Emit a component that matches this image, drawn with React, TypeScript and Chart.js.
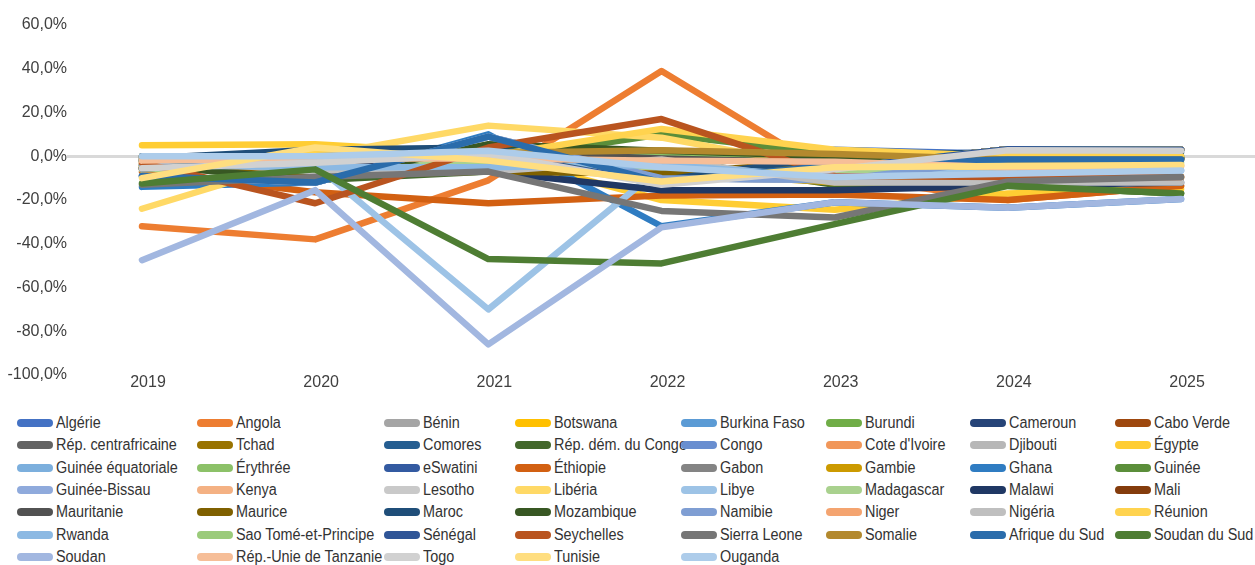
import React, { useEffect, useRef } from 'react';
import { Chart, registerables } from 'chart.js';

Chart.register(...registerables);

const years = ['2019', '2020', '2021', '2022', '2023', '2024', '2025'];
const yTicks = [60, 40, 20, 0, -20, -40, -60, -80, -100];

const countries = [
  'Algérie', 'Angola', 'Bénin', 'Botswana', 'Burkina Faso', 'Burundi', 'Cameroun', 'Cabo Verde',
  'Rép. centrafricaine', 'Tchad', 'Comores', 'Rép. dém. du Congo', 'Congo', "Cote d'Ivoire", 'Djibouti', 'Égypte',
  'Guinée équatoriale', 'Érythrée', 'eSwatini', 'Éthiopie', 'Gabon', 'Gambie', 'Ghana', 'Guinée',
  'Guinée-Bissau', 'Kenya', 'Lesotho', 'Libéria', 'Libye', 'Madagascar', 'Malawi', 'Mali',
  'Mauritanie', 'Maurice', 'Maroc', 'Mozambique', 'Namibie', 'Niger', 'Nigéria', 'Réunion',
  'Rwanda', 'Sao Tomé-et-Principe', 'Sénégal', 'Seychelles', 'Sierra Leone', 'Somalie', 'Afrique du Sud', 'Soudan du Sud',
  'Soudan', 'Rép.-Unie de Tanzanie', 'Togo', 'Tunisie', 'Ouganda',
];

const colors = [
  '#4472C4', '#ED7D31', '#A5A5A5', '#FFC000', '#5B9BD5', '#70AD47', '#264478', '#9E480E',
  '#636363', '#997300', '#255E91', '#43682B', '#698ED0', '#F1975A', '#B7B7B7', '#FFCD33',
  '#7CAFDD', '#8CC168', '#335AA1', '#D26012', '#848484', '#CC9A00', '#2F7CC2', '#5B8E3A',
  '#8FAADC', '#F4B183', '#C9C9C9', '#FFD966', '#9DC3E6', '#A9D18E', '#203864', '#843C0C',
  '#525252', '#7F6000', '#1F4E79', '#385723', '#7F9ED3', '#F4A470', '#BFBFBF', '#FFD34F',
  '#8CB9E3', '#9BCB7B', '#2F5597', '#B9541F', '#767676', '#B3892E', '#2A6CAB', '#4E7D33',
  '#A2B7E0', '#F6BE98', '#D1D1D1', '#FFDE80', '#ADCCEA',
];

// Annual change, % (2019 → 2025)
const algerie = [-1.5, -6, -6, -4, 3, 1, -0.5];
const angola = [-32, -38, -11, 39, -9, -20, -13.5];
const benin = [-5.5, -2.5, 1.5, -12.5, -5.5, 3.2, 3];
const botswana = [-5, -8, 4, -9, -4, 0, -1];
const burkinaFaso = [-5.5, -2.5, 1.5, -12.5, -5.5, 3.2, 3];
const burundi = [-2, -4, -2, -4, -10, -13.5, -17];
const cameroun = [-5.5, -2.5, 1.5, -12.5, -5.5, 3.2, 3];
const caboVerde = [-5.5, -2.5, 1.5, -12.5, -5.5, 3.2, 3];
const centrafrique = [-5.5, -2.5, 1.5, -12.5, -5.5, 3.2, 3];
const tchad = [-5.5, -2.5, 1.5, -12.5, -5.5, 3.2, 3];
const comores = [-5.5, -2.5, 1.5, -12.5, -5.5, 3.2, 3];
const rdc = [-2, -11, -7, -1, -13, -13.5, -17];
const congo = [-5.5, -2.5, 1.5, -12.5, -5.5, 3.2, 3];
const coteIvoire = [-5.5, -2.5, 1.5, -12.5, -5.5, 3.2, 3];
const djibouti = [0, 0, 0, 0, 0, 0, 0];
const egypte = [5, 5.5, 1, -20, -24.5, -17, -15];
const guineeEq = [-5.5, -2.5, 1.5, -12.5, -5.5, 3.2, 3];
const erythree = [0, 0, 0, 0, 0, 0, 0];
const eswatini = [-9, -12, 9, -10, -11, -1.5, -1.5];
const ethiopie = [-7, -16.5, -21.5, -18, -17.5, -20, -13.5];
const gabon = [-5.5, -2.5, 1.5, -12.5, -5.5, 3.2, 3];
const gambie = [-3, -1.5, -0.5, -7, -12, -11, -9.5];
const ghana = [-14, -12, 10, -32, -21, -23.5, -19.5];
const guinee = [-2, -4, -2, 10, 1, -1, -1];
const guineeBissau = [-5.5, -2.5, 1.5, -12.5, -5.5, 3.2, 3];
const kenya = [-2, -3, -2, -6, -10, -5, -4.5];
const lesotho = [-9, -12, 9, -10, -11, -1.5, -1.5];
const liberia = [-24, 0, 14, 8.5, -6, -5, -4];
const libye = [-2, -4, -70, -5, -7, -8, -6.5];
const madagascar = [-6, -5, -2, -5, -8, -2, -3];
const malawi = [0, -2, -7, -15.5, -15.5, -13.5, -12];
const mali = [-5.5, -2.5, 1.5, -12.5, -5.5, 3.2, 3];
const mauritanie = [-2, -2, 2, -1, -3, -4, -1];
const maurice = [-4, -9, -7, -8, -2, -2, -1];
const maroc = [-1, 3, 4, -11, 0, 2, 2];
const mozambique = [-4, -11, 5.5, 2.5, 0, -1, -1];
const namibie = [-9, -12, 9, -10, -11, -1.5, -1.5];
const niger = [-5.5, -2.5, 1.5, -12.5, -5.5, 3.2, 3];
const nigeria = [-1, -7, -7, -1.5, -12, -12, -12];
const reunion = [-5, 2, 0, 12.5, 3, 0, 0];
const rwanda = [-4, -5, -5, -4, -9.5, -8, -6.5];
const saoTome = [-5.5, -2.5, 1.5, -12.5, -5.5, 3.2, 3];
const senegal = [-5.5, -2.5, 1.5, -12.5, -5.5, 3.2, 3];
const seychelles = [-3, -21.5, 4, 17, -9, -9.5, -9.5];
const sierraLeone = [-13, -9.5, -7, -25, -28, -11.5, -9.5];
const somalie = [-1, 0, 1.5, 2.7, 1, -1.5, -1.5];
const afriqueSud = [-9, -12, 9, -12, -4, -1.5, -1.5];
const soudanSud = [-12.5, -6, -47, -49, -31, -13.5, -17];
const soudan = [-47.5, -15.5, -86, -32.5, -21, -23.5, -19.5];
const tanzanie = [-2, -1, -1, -2, -2.5, -5, -4.5];
const togo = [-5.5, -3, 1, -13, -6, 2.7, 2.5];
const tunisie = [-10, 4, -2, -11.5, -5, -4.5, -4];
const ouganda = [0, 0, 2.5, -5, -9.5, -8, -6.5];

const seriesValues = [
  algerie, angola, benin, botswana, burkinaFaso, burundi, cameroun, caboVerde,
  centrafrique, tchad, comores, rdc, congo, coteIvoire, djibouti, egypte,
  guineeEq, erythree, eswatini, ethiopie, gabon, gambie, ghana, guinee,
  guineeBissau, kenya, lesotho, liberia, libye, madagascar, malawi, mali,
  mauritanie, maurice, maroc, mozambique, namibie, niger, nigeria, reunion,
  rwanda, saoTome, senegal, seychelles, sierraLeone, somalie, afriqueSud, soudanSud,
  soudan, tanzanie, togo, tunisie, ouganda,
];

const legendCols = [17, 197, 384, 515, 681, 826, 970, 1115];
const legendRowTop = 423;
const legendRowStep = 22.35;

const TICK_FONT = { family: "'Liberation Sans', Arial, sans-serif", size: 16 };
const LEGEND_FONT = "'Liberation Sans', Arial, sans-serif";

export default function App() {
  const canvasRef = useRef<HTMLCanvasElement | null>(null);

  useEffect(() => {
    const canvas = canvasRef.current;
    if (!canvas) return;
    const n = countries.length;
    const chart = new Chart(canvas, {
      type: 'line',
      data: {
        datasets: countries.map((name, i) => ({
          label: name,
          data: seriesValues[i].map((v, j) => ({ x: j, y: v })),
          borderColor: colors[i],
          backgroundColor: colors[i],
          borderWidth: 6.5,
          pointRadius: 0,
          pointHoverRadius: 0,
          borderCapStyle: 'round',
          borderJoinStyle: 'round',
          tension: 0,
          fill: false,
          order: n - i,
        })),
      },
      options: {
        responsive: false,
        animation: false,
        events: [],
        layout: { padding: { top: 25, right: 0, bottom: 0, left: 0 } },
        plugins: {
          legend: { display: false },
          tooltip: { enabled: false },
        },
        scales: {
          x: {
            type: 'linear',
            min: -0.433,
            max: 6.427,
            afterBuildTicks: (scale: any) => {
              scale.ticks = years.map((_, i) => ({ value: i }));
            },
            afterFit: (scale: any) => {
              scale.height = 25;
            },
            ticks: {
              callback: (v: any) => years[v] ?? '',
              font: TICK_FONT,
              color: '#404040',
              padding: -2,
              labelOffset: 6,
              maxRotation: 0,
              autoSkip: false,
            },
            grid: { display: false, drawTicks: false },
            border: { display: false },
          },
          y: {
            min: -100,
            max: 60,
            afterBuildTicks: (scale: any) => {
              scale.ticks = yTicks.map((v) => ({ value: v }));
            },
            afterFit: (scale: any) => {
              scale.width = 67;
            },
            ticks: {
              callback: (v: any) => Number(v).toFixed(1).replace('.', ',') + '%',
              font: TICK_FONT,
              color: '#404040',
              padding: 0,
            },
            grid: {
              drawTicks: false,
              color: (ctx: any) => (ctx.tick && ctx.tick.value === 0 ? '#D9D9D9' : 'rgba(0,0,0,0)'),
              lineWidth: 3,
            },
            border: { display: false },
          },
        },
      },
    });
    return () => chart.destroy();
  }, []);

  return (
    <div style={{ position: 'absolute', left: 0, top: 0, width: 1255, height: 565, overflow: 'hidden', background: '#fff' }}>
      <canvas ref={canvasRef} width={1255} height={400} style={{ position: 'absolute', left: 0, top: 0 }} />
      {countries.map((name, i) => {
        const col = i % 8;
        const row = Math.floor(i / 8);
        const top = legendRowTop + row * legendRowStep - 11;
        return (
          <div
            key={name}
            style={{
              position: 'absolute',
              left: legendCols[col],
              top,
              height: 22,
              display: 'flex',
              alignItems: 'center',
              whiteSpace: 'nowrap',
              fontFamily: LEGEND_FONT,
              fontSize: 16,
              color: '#333333',
            }}
          >
            <span
              style={{
                display: 'inline-block',
                width: 36,
                height: 8,
                borderRadius: 4,
                background: colors[i],
                marginRight: 3,
                flex: '0 0 auto',
              }}
            />
            <span style={{ display: 'inline-block', transform: 'scaleX(0.9)', transformOrigin: 'left center' }}>{name}</span>
          </div>
        );
      })}
    </div>
  );
}
